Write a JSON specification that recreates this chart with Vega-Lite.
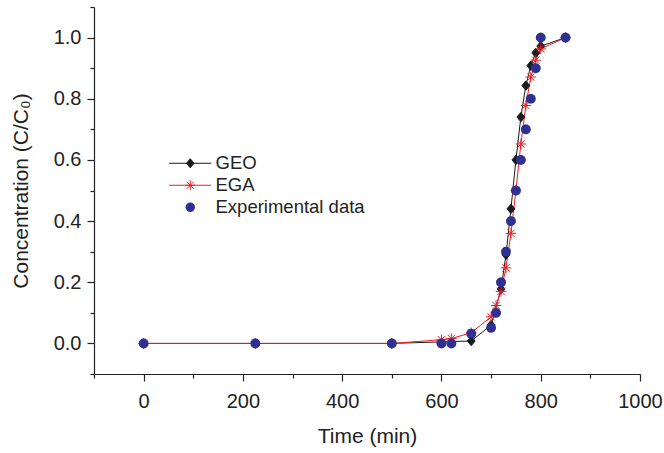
{
  "$schema": "https://vega.github.io/schema/vega-lite/v6.json",
  "width": 546,
  "height": 367,
  "autosize": "none",
  "padding": {"left": 94, "top": 7, "right": 24, "bottom": 79},
  "background": "white",
  "config": {
    "view": {"stroke": null},
    "font": "Liberation Sans",
    "axis": {
      "grid": false,
      "domainColor": "#222222",
      "tickColor": "#222222",
      "labelColor": "#222222",
      "titleColor": "#222222",
      "domainWidth": 1.2,
      "tickWidth": 1.2,
      "labelFontSize": 20,
      "titleFontSize": 21,
      "titleFontWeight": "normal",
      "labelFlush": false,
      "labelOverlap": false
    }
  },
  "data": {
    "values": [
      {"t": 0, "c": 0, "s": "GEO"},
      {"t": 225, "c": 0, "s": "GEO"},
      {"t": 500, "c": 0, "s": "GEO"},
      {"t": 660, "c": 0.008, "s": "GEO"},
      {"t": 700, "c": 0.06, "s": "GEO"},
      {"t": 720, "c": 0.178, "s": "GEO"},
      {"t": 730, "c": 0.29, "s": "GEO"},
      {"t": 740, "c": 0.44, "s": "GEO"},
      {"t": 750, "c": 0.6, "s": "GEO"},
      {"t": 760, "c": 0.74, "s": "GEO"},
      {"t": 770, "c": 0.843, "s": "GEO"},
      {"t": 780, "c": 0.908, "s": "GEO"},
      {"t": 790, "c": 0.95, "s": "GEO"},
      {"t": 800, "c": 0.972, "s": "GEO"},
      {"t": 850, "c": 1.0, "s": "GEO"},
      {"t": 0, "c": 0, "s": "EGA"},
      {"t": 225, "c": 0, "s": "EGA"},
      {"t": 500, "c": 0, "s": "EGA"},
      {"t": 600, "c": 0.012, "s": "EGA"},
      {"t": 620, "c": 0.016, "s": "EGA"},
      {"t": 660, "c": 0.035, "s": "EGA"},
      {"t": 700, "c": 0.087, "s": "EGA"},
      {"t": 710, "c": 0.124, "s": "EGA"},
      {"t": 720, "c": 0.17, "s": "EGA"},
      {"t": 730, "c": 0.247, "s": "EGA"},
      {"t": 740, "c": 0.36, "s": "EGA"},
      {"t": 750, "c": 0.5, "s": "EGA"},
      {"t": 760, "c": 0.652, "s": "EGA"},
      {"t": 770, "c": 0.778, "s": "EGA"},
      {"t": 780, "c": 0.871, "s": "EGA"},
      {"t": 790, "c": 0.926, "s": "EGA"},
      {"t": 800, "c": 0.963, "s": "EGA"},
      {"t": 850, "c": 1.0, "s": "EGA"},
      {"t": 0, "c": 0, "s": "Experimental data"},
      {"t": 225, "c": 0, "s": "Experimental data"},
      {"t": 500, "c": 0, "s": "Experimental data"},
      {"t": 600, "c": 0, "s": "Experimental data"},
      {"t": 620, "c": 0, "s": "Experimental data"},
      {"t": 660, "c": 0.032, "s": "Experimental data"},
      {"t": 700, "c": 0.051, "s": "Experimental data"},
      {"t": 710, "c": 0.1, "s": "Experimental data"},
      {"t": 720, "c": 0.2, "s": "Experimental data"},
      {"t": 730, "c": 0.3, "s": "Experimental data"},
      {"t": 740, "c": 0.4, "s": "Experimental data"},
      {"t": 750, "c": 0.5, "s": "Experimental data"},
      {"t": 760, "c": 0.6, "s": "Experimental data"},
      {"t": 770, "c": 0.7, "s": "Experimental data"},
      {"t": 780, "c": 0.8, "s": "Experimental data"},
      {"t": 790, "c": 0.9, "s": "Experimental data"},
      {"t": 800, "c": 1.0, "s": "Experimental data"},
      {"t": 850, "c": 1.0, "s": "Experimental data"}
    ]
  },
  "layer": [
    {
      "transform": [{"filter": "datum.s !== 'Experimental data'"}],
      "mark": {"type": "line", "strokeWidth": 1},
      "encoding": {
        "x": {
          "field": "t", "type": "quantitative",
          "scale": {"domain": [-100, 1000], "nice": false, "zero": false},
          "axis": {"values": [0, 200, 400, 600, 800, 1000], "format": "d", "tickSize": 7, "labelPadding": 10, "title": "Time (min)", "titlePadding": 14}
        },
        "y": {
          "field": "c", "type": "quantitative",
          "scale": {"domain": [-0.1, 1.1], "nice": false, "zero": false},
          "axis": {"values": [0, 0.2, 0.4, 0.6, 0.8, 1.0], "format": ".1f", "tickSize": 7, "labelPadding": 6, "title": "Concentration (C/C₀)", "titlePadding": 22}
        },
        "stroke": {
          "field": "s", "type": "nominal",
          "scale": {"domain": ["GEO", "EGA"], "range": ["#1a1a1a", "#ed1c24"]},
          "legend": null
        }
      }
    },
    {
      "mark": {"type": "point", "size": 110, "strokeWidth": 1, "opacity": 1},
      "encoding": {
        "x": {
          "field": "t", "type": "quantitative",
          "scale": {"domain": [-100, 1000], "nice": false, "zero": false},
          "axis": {"values": [-100, 100, 300, 500, 700, 900], "tickSize": 4, "labels": false, "domain": false, "title": null, "orient": "bottom"}
        },
        "y": {
          "field": "c", "type": "quantitative",
          "scale": {"domain": [-0.1, 1.1], "nice": false, "zero": false},
          "axis": {"values": [-0.1, 0.1, 0.3, 0.5, 0.7, 0.9, 1.1], "tickSize": 4, "labels": false, "domain": false, "title": null, "orient": "left"}
        },
        "shape": {
          "field": "s", "type": "nominal",
          "scale": {
            "domain": ["GEO", "EGA", "Experimental data"],
            "range": [
              "M0,-0.9L0.75,0L0,0.9L-0.75,0Z",
              "M-1,0L1,0M0,-1L0,1M-0.7,-0.7L0.7,0.7M-0.7,0.7L0.7,-0.7",
              "M0.95,0L0.878,0.364L0.672,0.672L0.364,0.878L0,0.95L-0.364,0.878L-0.672,0.672L-0.878,0.364L-0.95,0L-0.878,-0.364L-0.672,-0.672L-0.364,-0.878L0,-0.95L0.364,-0.878L0.672,-0.672L0.878,-0.364Z"
            ]
          },
          "legend": null
        },
        "fill": {
          "field": "s", "type": "nominal",
          "scale": {"domain": ["GEO", "EGA", "Experimental data"], "range": ["#1a1a1a", "transparent", "#2e3192"]},
          "legend": null
        },
        "stroke": {
          "field": "s", "type": "nominal",
          "scale": {"domain": ["GEO", "EGA", "Experimental data"], "range": ["#1a1a1a", "#ed1c24", "transparent"]},
          "legend": null
        }
      }
    },
    {
      "transform": [{"filter": "false"}],
      "mark": {"type": "point", "size": 100, "strokeWidth": 1, "opacity": 1},
      "encoding": {
        "x": {"field": "t", "type": "quantitative", "scale": {"domain": [-100, 1000], "nice": false, "zero": false}, "axis": null},
        "y": {"field": "c", "type": "quantitative", "scale": {"domain": [-0.1, 1.1], "nice": false, "zero": false}, "axis": null},
        "shape": {
          "field": "s", "type": "nominal",
          "scale": {
            "domain": ["GEO", "EGA", "Experimental data"],
            "range": [
              "M-4.2,0L4.2,0M0,-0.9L0.75,0L0,0.9L-0.75,0Z",
              "M-4.2,0L4.2,0M-1,0L1,0M0,-1L0,1M-0.7,-0.7L0.7,0.7M-0.7,0.7L0.7,-0.7",
              "M0.95,0L0.878,0.364L0.672,0.672L0.364,0.878L0,0.95L-0.364,0.878L-0.672,0.672L-0.878,0.364L-0.95,0L-0.878,-0.364L-0.672,-0.672L-0.364,-0.878L0,-0.95L0.364,-0.878L0.672,-0.672L0.878,-0.364Z"
            ]
          },
          "legend": {"title": null, "orient": "none", "legendX": 87, "legendY": 147, "direction": "vertical", "columns": 1, "symbolSize": 100, "symbolStrokeWidth": 1, "labelFontSize": 18.5, "labelColor": "#222222", "labelOffset": 16, "rowPadding": 3, "padding": 0}
        },
        "fill": {
          "field": "s", "type": "nominal",
          "scale": {"domain": ["GEO", "EGA", "Experimental data"], "range": ["#1a1a1a", "transparent", "#2e3192"]},
          "legend": {"title": null, "orient": "none", "legendX": 87, "legendY": 147, "direction": "vertical", "columns": 1, "symbolSize": 100, "symbolStrokeWidth": 1, "labelFontSize": 18.5, "labelColor": "#222222", "labelOffset": 16, "rowPadding": 3, "padding": 0}
        },
        "stroke": {
          "field": "s", "type": "nominal",
          "scale": {"domain": ["GEO", "EGA", "Experimental data"], "range": ["#1a1a1a", "#ed1c24", "transparent"]},
          "legend": {"title": null, "orient": "none", "legendX": 87, "legendY": 147, "direction": "vertical", "columns": 1, "symbolSize": 100, "symbolStrokeWidth": 1, "labelFontSize": 18.5, "labelColor": "#222222", "labelOffset": 16, "rowPadding": 3, "padding": 0}
        }
      }
    }
  ],
  "resolve": {
    "scale": {"shape": "independent", "fill": "independent", "stroke": "independent"},
    "axis": {"x": "independent", "y": "independent"}
  }
}
